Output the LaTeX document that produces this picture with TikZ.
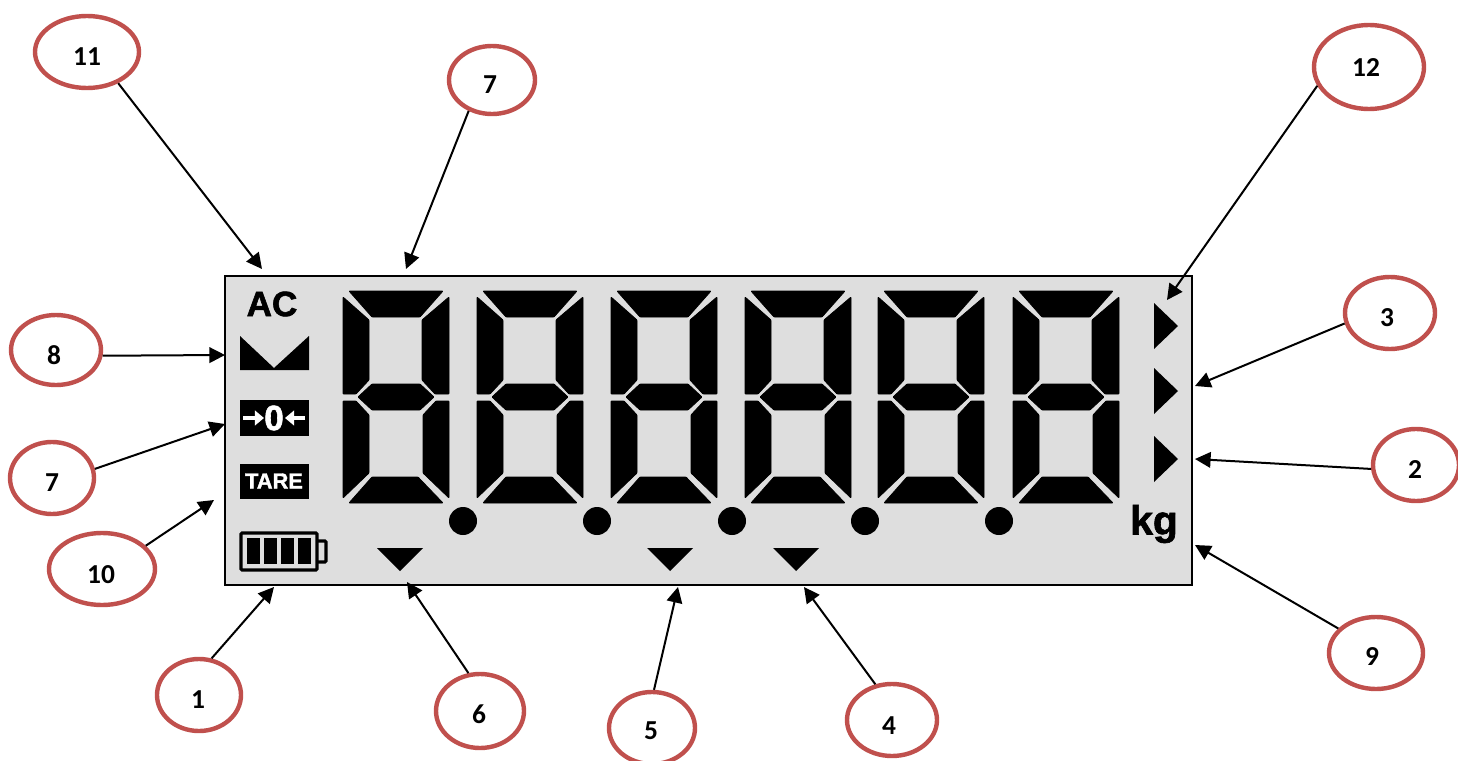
\documentclass[tikz,border=0pt]{standalone}
\usepackage{fontspec}
\setsansfont[BoldFeatures={FakeBold=1.6}]{Liberation Sans}
\newfontfamily\calibrilike{Carlito}
\usepackage{xcolor}
\usetikzlibrary{positioning,arrows.meta,shapes.geometric}
\definecolor{panelgray}{RGB}{222,222,222}
\definecolor{ringred}{RGB}{192,80,77}
\tikzset{
  panel/.style={draw=black, fill=panelgray, line width=0.45mm},
  seg/.style={fill=black, draw=black, line width=0.2mm, line join=round, rounded corners=0.5pt},
  ring/.style={ellipse, draw=ringred, fill=white, line width=1.1mm, inner sep=0pt},
  num/.style={font=\calibrilike\bfseries\fontsize{19.5}{19.5}\selectfont, text=black, inner sep=0pt},
  pointer/.style={-{Triangle[length=3.9mm,width=3.9mm]}, line width=0.5mm, draw=black},
  zeroarrow/.style={-{Triangle[length=2.3mm,width=3.7mm]}, white, line width=1.2mm},
  lcd/.style={font=\sffamily\bfseries\fontsize{#1}{#1}\selectfont, inner sep=0pt},
  digit/.pic={
    \filldraw[seg] (6,0) -- (100,0) -- (77,26) -- (29,26) -- cycle;
    \filldraw[seg] (0,6) -- (26,29) -- (26,89) -- (13,103) -- (0,103) -- cycle;
    \filldraw[seg] (106,6) -- (79,29) -- (79,89) -- (92,103) -- (106,103) -- cycle;
    \filldraw[seg] (15,106) -- (29,93) -- (77,93) -- (91,106) -- (77,119) -- (29,119) -- cycle;
    \filldraw[seg] (0,110) -- (13,110) -- (26,124) -- (26,182) -- (0,207) -- cycle;
    \filldraw[seg] (106,110) -- (93,110) -- (80,124) -- (80,182) -- (106,207) -- cycle;
    \filldraw[seg] (29,186) -- (75,186) -- (100,212) -- (6,212) -- cycle;
  },
}
\begin{document}
\begin{tikzpicture}[x=0.25mm,y=-0.25mm]
  \useasboundingbox (0,0) rectangle (1458,761);
  \fill[white] (0,0) rectangle (1458,761);
  % display
  \draw[panel] (225,276) rectangle (1192,585);
  \foreach \dx in {343,477,611,745,878,1013}
    \pic at (\dx,291) {digit};
  \foreach \dx in {463,597,732,865,999}
    \fill (\dx,521) circle (14);
  \foreach \dx in {400,670,796}
    \fill (\dx-23,548) -- (\dx+23,548) -- (\dx,571) -- cycle;
  \foreach \dy in {326,391,459}
    \fill (1154,\dy-23) -- (1178,\dy) -- (1154,\dy+23) -- cycle;
  % symbols
  \node[lcd=25] (ac) at (272,304) {AC};
  \fill (240,336) -- (274,368) -- (309,336) -- (309,370) -- (240,370) -- cycle;
  \fill (240,400) rectangle (309,436);
  \node[lcd=25, text=white] (zero) at (274,418) {0};
  \coordinate (zl0) at (243,418);
  \coordinate (zl1) at (264,418);
  \coordinate (zr0) at (305,418);
  \coordinate (zr1) at (285,418);
  \draw[zeroarrow] (zl0) -- (zl1);
  \draw[zeroarrow] (zr0) -- (zr1);
  \fill (240,464) rectangle (309,499);
  \node[lcd=15.5, text=white] (tare) at (274,481) {TARE};
  \draw[line width=0.8mm, rounded corners=0.8pt] (241,533) rectangle (317,570);
  \draw[line width=0.8mm, rounded corners=0.8pt] (317,541) -- (326,541) -- (326,562) -- (317,562);
  \foreach \bx in {247,264,281,298}
    \fill (\bx,538) rectangle (\bx+13,564);
  \node[lcd=29] (kg) at (1154,524) {kg};
  % callouts
  \node[ring, minimum width=26mm, minimum height=18mm] (c11) at (87,52) {};
  \node[ring, minimum width=21.5mm, minimum height=17mm] (c7a) at (492,80) {};
  \node[ring, minimum width=27.5mm, minimum height=21mm] (c12) at (1369,67) {};
  \node[ring, minimum width=22.5mm, minimum height=17.5mm] (c8) at (56,350) {};
  \node[ring, minimum width=22.5mm, minimum height=18mm] (c3) at (1390,313) {};
  \node[ring, minimum width=21mm, minimum height=18mm] (c7b) at (52,478) {};
  \node[ring, minimum width=21.5mm, minimum height=18mm] (c2) at (1416,465) {};
  \node[ring, minimum width=26.5mm, minimum height=18mm] (c10) at (102,569) {};
  \node[ring, minimum width=23.5mm, minimum height=18mm] (c9) at (1376,653) {};
  \node[ring, minimum width=21mm, minimum height=18mm] (c1) at (199,695) {};
  \node[ring, minimum width=22mm, minimum height=18.5mm] (c6) at (480,711) {};
  \node[ring, minimum width=21.5mm, minimum height=18mm] (c5) at (652,728) {};
  \node[ring, minimum width=22.5mm, minimum height=18mm] (c4) at (892,720) {};
  \node[num] (n11) at (87,57) {11};
  \node[num] (n7a) at (490,85) {7};
  \node[num] (n12) at (1366,68) {12};
  \node[num] (n8) at (54,355) {8};
  \node[num] (n3) at (1387,318) {3};
  \node[num] (n7b) at (52,483) {7};
  \node[num] (n2) at (1415,470) {2};
  \node[num] (n10) at (101,575) {10};
  \node[num] (n9) at (1372,657) {9};
  \node[num] (n1) at (198,700) {1};
  \node[num] (n6) at (479,714) {6};
  \node[num] (n5) at (651,731) {5};
  \node[num] (n4) at (889,726) {4};
  % arrow ends
  \coordinate (e11) at (262,269);
  \coordinate (e7a) at (406,269);
  \coordinate (e12) at (1167,300);
  \coordinate (e8) at (225,355);
  \coordinate (e3) at (1195,386);
  \coordinate (e7b) at (225,424);
  \coordinate (e2) at (1195,459);
  \coordinate (e10) at (214,500);
  \coordinate (e9) at (1195,545);
  \coordinate (e1) at (274,587);
  \coordinate (e6) at (407,582);
  \coordinate (e5) at (678,587);
  \coordinate (e4) at (804,587);
  \draw[pointer] (c11.315) -- (e11);
  \draw[pointer] (c7a.233) -- (e7a);
  \draw[pointer] (c12.200) -- (e12);
  \draw[pointer] (c8.353) -- (e8);
  \draw[pointer] (c3.193) -- (e3);
  \draw[pointer] (c7b.12) -- (e7b);
  \draw[pointer] (c2.185) -- (e2);
  \draw[pointer] (c10.28) -- (e10);
  \draw[pointer] (c9.147) -- (e9);
  \draw[pointer] (c1.71) -- (e1);
  \draw[pointer] (c6.107) -- (e6);
  \draw[pointer] (c5.87) -- (e5);
  \draw[pointer] (c4.115) -- (e4);
\end{tikzpicture}
\end{document}
